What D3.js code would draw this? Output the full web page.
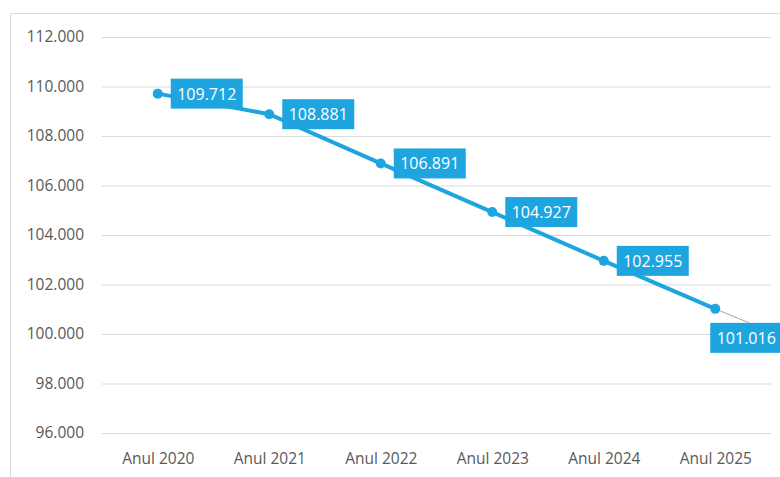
<!DOCTYPE html>
<html lang="ro">
<head>
  <meta charset="UTF-8">
  <title>Anul 2020 - 2025</title>
  <style>
    body { margin: 0; background: #fff; }
    #chart { width: 780px; height: 477px; }
    text { font-family: "Open Sans", "Noto Sans", sans-serif; }
  </style>
  <script src="https://d3js.org/d3.v7.min.js"></script>
</head>
<body>
<div id="chart"></div>
<script>
  // Data
  var years = ["Anul 2020", "Anul 2021", "Anul 2022", "Anul 2023", "Anul 2024", "Anul 2025"];
  var values = [109712, 108881, 106891, 104927, 102955, 101016];
  var yTicks = [96000, 98000, 100000, 102000, 104000, 106000, 108000, 110000, 112000];

  var width = 780, height = 477;
  var plotLeft = 102, plotRight = 771, plotTop = 37, plotBottom = 433;
  var blue = "#1ea5df";

  var fmt = function(v) { return d3.format(",")(v).replace(/,/g, "."); };

  var xScale = d3.scalePoint()
          .domain(years)
          .range([plotLeft, plotRight])
          .padding(0.5);
  var yScale = d3.scaleLinear()
          .domain([96000, 112000])
          .range([plotBottom, plotTop]);

  var svg = d3.select("#chart")
          .append("svg")
          .attr("width", width)
          .attr("height", height);

  // chart frame (only top and left edges visible in the crop)
  svg.append("path")
          .attr("d", "M10.5," + height + "V13.5H" + width)
          .attr("fill", "none")
          .attr("stroke", "#d9d9d9");

  // gridlines + y labels
  var yAxis = svg.append("g")
          .attr("transform", "translate(" + plotLeft + ",0)")
          .call(d3.axisLeft(yScale)
                  .tickValues(yTicks)
                  .tickSize(-(plotRight - plotLeft))
                  .tickPadding(18)
                  .tickFormat(fmt));
  yAxis.select(".domain").remove();
  yAxis.selectAll(".tick line").attr("stroke", "#d9d9d9");
  yAxis.selectAll(".tick text")
          .attr("fill", "#595959")
          .style("font-size", "15.5px");

  // x labels
  var xAxis = svg.append("g")
          .attr("transform", "translate(0," + plotBottom + ")")
          .call(d3.axisBottom(xScale).tickSize(0).tickPadding(20));
  xAxis.select(".domain").remove();
  xAxis.selectAll(".tick text")
          .attr("fill", "#595959")
          .style("font-size", "15.5px");

  var pts = years.map(function(y, i) { return { year: y, value: values[i] }; });

  // line
  svg.append("path")
          .datum(pts)
          .attr("d", d3.line()
                  .x(function(d) { return xScale(d.year); })
                  .y(function(d) { return yScale(d.value); }))
          .attr("fill", "none")
          .attr("stroke", blue)
          .attr("stroke-width", 4);

  // leader line for the last label
  var last = pts[pts.length - 1];
  svg.append("line")
          .attr("x1", xScale(last.year))
          .attr("y1", yScale(last.value))
          .attr("x2", xScale(last.year) + 34)
          .attr("y2", yScale(last.value) + 14)
          .attr("stroke", "#a6a6a6")
          .attr("stroke-width", 1);

  // markers
  svg.selectAll("circle.pt")
          .data(pts)
          .enter().append("circle")
          .attr("class", "pt")
          .attr("cx", function(d) { return xScale(d.year); })
          .attr("cy", function(d) { return yScale(d.value); })
          .attr("r", 5)
          .attr("fill", blue);

  // data labels
  var lab = svg.selectAll("g.lab")
          .data(pts)
          .enter().append("g")
          .attr("class", "lab")
          .attr("transform", function(d, i) {
            var x = xScale(d.year) + 13, y = yScale(d.value) - 15;
            if (i === pts.length - 1) { x = xScale(d.year) - 5; y = yScale(d.value) + 14; }
            return "translate(" + x + "," + y + ")";
          });
  lab.append("rect")
          .attr("width", 72)
          .attr("height", 30)
          .attr("fill", blue);
  lab.append("text")
          .attr("x", 36)
          .attr("y", 21)
          .attr("text-anchor", "middle")
          .attr("fill", "#fff")
          .style("font-size", "16px")
          .text(function(d) { return fmt(d.value); });
</script>
</body>
</html>
